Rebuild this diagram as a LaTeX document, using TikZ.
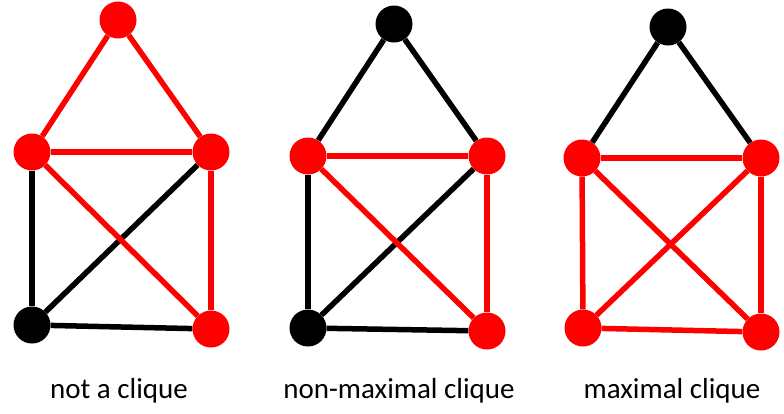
\documentclass[tikz,border=0pt]{standalone}
\usepackage{fontspec}
\setmainfont{Carlito}
\definecolor{gred}{RGB}{255,0,0}
\begin{document}
\begin{tikzpicture}[x=1pt,y=-1pt,
  vtx/.style={circle,fill=#1,minimum size=37pt,inner sep=0pt},
  edg/.style={draw=#1,line width=5.5pt},
  lbl/.style={anchor=base,font=\fontsize{29}{34}\selectfont,text=black}]
\useasboundingbox (0,0) rectangle (784,413);
% Graph 1: not a clique
\node[vtx=gred] (a1) at (118,20) {};
\node[vtx=gred] (b1) at (32,152) {};
\node[vtx=gred] (c1) at (211,152) {};
\node[vtx=black] (d1) at (32,325) {};
\node[vtx=gred] (e1) at (211,329) {};
% Graph 2: non-maximal clique
\node[vtx=black] (a2) at (394,24) {};
\node[vtx=gred] (b2) at (308,156) {};
\node[vtx=gred] (c2) at (487,156) {};
\node[vtx=black] (d2) at (308,328) {};
\node[vtx=gred] (e2) at (487,331) {};
% Graph 3: maximal clique
\node[vtx=black] (a3) at (668,27) {};
\node[vtx=gred] (b3) at (582,158) {};
\node[vtx=gred] (c3) at (761,158) {};
\node[vtx=gred] (d3) at (583,328) {};
\node[vtx=gred] (e3) at (761,332) {};
% edges graph 1
\draw[edg=black] (b1) -- (d1);
\draw[edg=black] (c1) -- (d1);
\draw[edg=black] (d1) -- (e1);
\draw[edg=gred] (a1) -- (b1);
\draw[edg=gred] (a1) -- (c1);
\draw[edg=gred] (b1) -- (c1);
\draw[edg=gred] (c1) -- (e1);
\draw[edg=gred] (b1) -- (e1);
% edges graph 2
\draw[edg=black] (a2) -- (b2);
\draw[edg=black] (a2) -- (c2);
\draw[edg=black] (b2) -- (d2);
\draw[edg=black] (c2) -- (d2);
\draw[edg=black] (d2) -- (e2);
\draw[edg=gred] (b2) -- (c2);
\draw[edg=gred] (c2) -- (e2);
\draw[edg=gred] (b2) -- (e2);
% edges graph 3
\draw[edg=black] (a3) -- (b3);
\draw[edg=black] (a3) -- (c3);
\draw[edg=gred] (b3) -- (c3);
\draw[edg=gred] (b3) -- (d3);
\draw[edg=gred] (c3) -- (e3);
\draw[edg=gred] (b3) -- (e3);
\draw[edg=gred] (c3) -- (d3);
\draw[edg=gred] (d3) -- (e3);
% labels
\node[lbl] (l1) at (119,398) {not a clique};
\node[lbl] (l2) at (399,398) {non-maximal clique};
\node[lbl] (l3) at (672,398) {maximal clique};
\end{tikzpicture}
\end{document}
